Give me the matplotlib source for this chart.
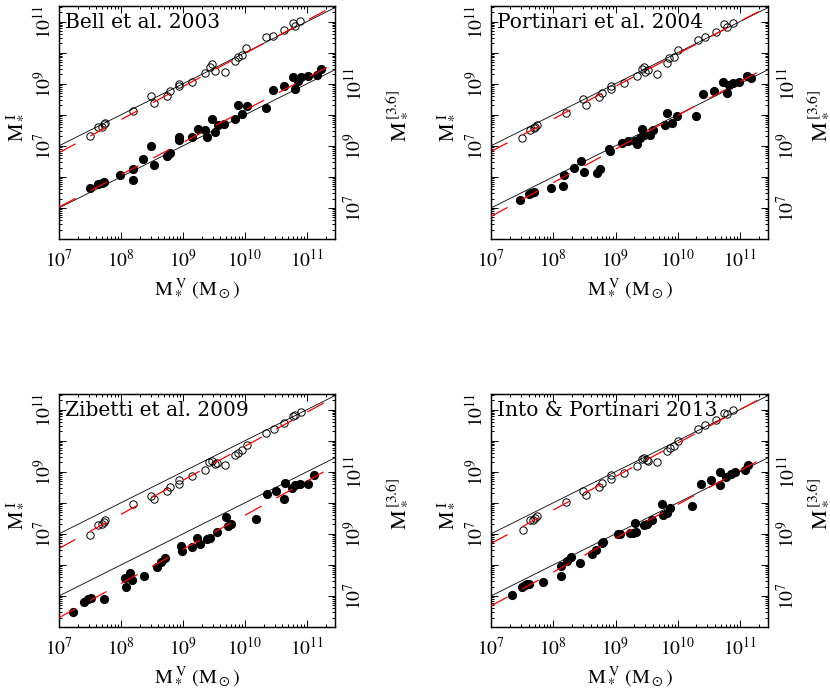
import numpy as np
import matplotlib
matplotlib.use("Agg")
import matplotlib.pyplot as plt
from matplotlib.ticker import FixedLocator, FuncFormatter, LogLocator, NullFormatter

plt.rcParams['font.family'] = 'serif'
plt.rcParams['font.serif'] = ['DejaVu Serif', 'Liberation Serif']
plt.rcParams['mathtext.fontset'] = 'stix'

titles = ['Bell et al. 2003', 'Portinari et al. 2004',
          'Zibetti et al. 2009', 'Into & Portinari 2013']

# log10 masses; "i" = open circles (I band, left axis), "s" = filled (3.6um, right axis)
bell_vi = [7.50, 7.63, 7.69, 7.72, 7.74, 8.19, 8.48, 8.53, 8.74, 8.79, 8.94, 8.94, 9.14, 9.35,
           9.44, 9.46, 9.52, 9.67, 9.84, 9.88, 9.95, 10.02, 10.33, 10.45, 10.62, 10.77, 10.80, 10.89]
bell_i = [7.33, 7.59, 7.62, 7.69, 7.75, 8.11, 8.62, 8.37, 8.59, 8.75, 9.00, 8.93, 9.07, 9.34,
          9.55, 9.63, 9.42, 9.39, 9.74, 9.87, 9.92, 10.16, 10.49, 10.54, 10.73, 10.95, 10.86, 11.02]
bell_vs = [7.50, 7.63, 7.69, 7.73, 7.99, 8.20, 8.19, 8.36, 8.48, 8.53, 8.74, 8.79, 8.94, 8.94,
           9.14, 9.24, 9.35, 9.38, 9.46, 9.52, 9.57, 9.66, 9.84, 9.88, 9.95, 10.03, 10.33, 10.45,
           10.62, 10.77, 10.80, 10.86, 10.91, 11.02, 11.16, 11.23]
bell_s = [7.64, 7.78, 7.80, 7.82, 8.05, 8.26, 7.91, 8.58, 8.98, 8.39, 8.66, 8.77, 9.20, 9.28,
          9.30, 9.54, 9.52, 9.30, 9.86, 9.46, 9.68, 9.70, 9.86, 10.32, 10.02, 10.27, 10.21, 10.80,
          10.94, 11.23, 10.83, 11.09, 11.21, 11.25, 11.29, 11.47]

port_vi = [7.50, 7.63, 7.69, 7.71, 7.74, 8.20, 8.48, 8.53, 8.73, 8.79, 8.93, 8.93, 9.13, 9.35,
           9.42, 9.46, 9.48, 9.53, 9.66, 9.83, 9.86, 9.94, 10.01, 10.32, 10.43, 10.61, 10.75, 10.79, 10.88]
port_i = [7.25, 7.52, 7.57, 7.62, 7.68, 8.05, 8.51, 8.30, 8.56, 8.70, 8.93, 8.82, 9.02, 9.25,
          9.48, 9.55, 9.39, 9.45, 9.32, 9.68, 9.82, 9.87, 10.07, 10.41, 10.49, 10.68, 10.91, 10.84, 10.97]
port_vs = [7.47, 7.61, 7.65, 7.69, 7.97, 8.17, 8.16, 8.33, 8.45, 8.50, 8.70, 8.75, 8.90, 8.91,
           9.10, 9.20, 9.32, 9.35, 9.42, 9.40, 9.46, 9.56, 9.61, 9.80, 9.83, 9.91, 9.98, 10.30,
           10.40, 10.58, 10.73, 10.79, 10.83, 10.88, 10.98, 11.11, 11.18]
port_s = [7.24, 7.46, 7.48, 7.50, 7.64, 8.07, 7.72, 8.28, 8.50, 8.16, 8.12, 8.25, 8.90, 8.82,
          9.09, 9.17, 9.14, 9.07, 9.54, 9.25, 9.36, 9.36, 9.52, 9.68, 10.07, 9.75, 9.97, 9.97,
          10.66, 10.78, 11.07, 10.70, 10.96, 11.02, 11.07, 11.25, 11.18]

zib_vi = [7.50, 7.63, 7.69, 7.72, 7.74, 8.19, 8.48, 8.53, 8.74, 8.79, 8.94, 8.94, 9.14, 9.35,
          9.42, 9.46, 9.52, 9.54, 9.67, 9.84, 9.88, 9.95, 10.03, 10.34, 10.46, 10.62, 10.77, 10.81, 10.90]
zib_i = [6.96, 7.28, 7.33, 7.39, 7.43, 7.95, 8.21, 8.13, 8.37, 8.51, 8.62, 8.72, 8.86, 9.07,
         9.31, 9.34, 9.25, 9.29, 9.20, 9.55, 9.61, 9.71, 9.87, 10.25, 10.38, 10.57, 10.79, 10.84, 10.92]
zib_vs = [7.23, 7.41, 7.47, 7.51, 7.73, 8.06, 8.08, 8.15, 8.17, 8.37, 8.58, 8.65, 8.71, 8.98,
          8.97, 9.14, 9.22, 9.27, 9.38, 9.44, 9.54, 9.69, 9.73, 9.78, 10.18, 10.35, 10.50, 10.62,
          10.65, 10.75, 10.81, 10.89, 11.02, 11.11]
zib_s = [6.48, 6.81, 6.89, 6.93, 6.89, 7.59, 7.30, 7.73, 7.53, 7.64, 7.94, 8.09, 8.23, 8.44,
         8.61, 8.58, 8.87, 8.66, 8.82, 8.87, 9.07, 9.55, 9.25, 9.32, 9.48, 10.27, 10.37, 10.11,
         10.64, 10.48, 10.57, 10.62, 10.62, 10.91]

into_vi = [7.51, 7.63, 7.68, 7.71, 7.74, 8.20, 8.48, 8.53, 8.73, 8.79, 8.93, 8.93, 9.13, 9.35,
           9.42, 9.46, 9.50, 9.53, 9.66, 9.83, 9.87, 9.94, 10.01, 10.32, 10.43, 10.61, 10.75, 10.79, 10.88]
into_i = [7.12, 7.44, 7.46, 7.52, 7.59, 8.03, 8.37, 8.25, 8.50, 8.64, 8.88, 8.75, 8.96, 9.18,
          9.41, 9.45, 9.39, 9.36, 9.31, 9.68, 9.77, 9.82, 10.00, 10.36, 10.49, 10.68, 10.89, 10.87, 11.00]
into_vs = [7.34, 7.50, 7.54, 7.58, 7.61, 7.83, 8.12, 8.12, 8.22, 8.28, 8.43, 8.62, 8.68, 8.79,
           8.80, 9.04, 9.08, 9.23, 9.28, 9.31, 9.33, 9.46, 9.50, 9.59, 9.75, 9.77, 9.83, 9.88,
           10.23, 10.37, 10.54, 10.68, 10.68, 10.77, 10.85, 10.92, 11.08, 11.13]
into_s = [7.03, 7.29, 7.34, 7.37, 7.39, 7.46, 7.98, 7.64, 8.12, 8.25, 8.05, 8.34, 8.47, 8.69,
          8.73, 8.98, 9.00, 9.03, 9.03, 9.36, 9.06, 9.30, 9.33, 9.46, 9.95, 9.62, 9.66, 9.84,
          9.89, 10.61, 10.72, 10.98, 10.56, 10.83, 10.93, 10.98, 11.07, 11.23]

# red dashed fits: log M = zero + slope * (log M_V - 7)
fit_i_zero = [6.78, 6.82, 6.53, 6.69]
fit_i_slope = [1.065, 1.047, 1.097, 1.077]
fit_s_zero = [7.03, 6.73, 6.30, 6.68]
fit_s_slope = [1.04, 1.083, 1.10, 1.088]

panels = [(bell_vi, bell_i, bell_vs, bell_s), (port_vi, port_i, port_vs, port_s),
          (zib_vi, zib_i, zib_vs, zib_s), (into_vi, into_i, into_vs, into_s)]

XLIM = (1e7, 10 ** 11.45)
YLIM_L = (1e4, 10 ** 11.5)
YLIM_R = (1e6, 10 ** 13.5)

rects = [[0.0711, 0.6556, 0.3325, 0.3357], [0.5916, 0.6556, 0.3337, 0.3357],
         [0.0711, 0.0965, 0.3325, 0.3357], [0.5916, 0.0965, 0.3337, 0.3357]]
right_label_x = [1.225, 1.18, 1.225, 1.18]


def dec_label(show):
    def f(v, pos):
        e = int(round(np.log10(v)))
        return r'$10^{%d}$' % e if e in show else ''
    return FuncFormatter(f)


def style_log(axis, show):
    axis.set_major_locator(FixedLocator([10.0 ** e for e in range(3, 15)]))
    axis.set_major_formatter(dec_label(show))
    axis.set_minor_locator(LogLocator(base=10, subs=np.arange(2, 10), numticks=50))
    axis.set_minor_formatter(NullFormatter())


fig = plt.figure(figsize=(8.3, 6.94), dpi=100)
xx = np.logspace(7, 11.45, 50)
lw_d = 0.9

for k, (vi, mi, vs, ms) in enumerate(panels):
    ax = fig.add_axes(rects[k])
    ax2 = ax.twinx()
    ax.set_xscale('log'); ax.set_yscale('log'); ax2.set_yscale('log')
    ax.set_xlim(*XLIM); ax.set_ylim(*YLIM_L); ax2.set_ylim(*YLIM_R)

    ax.plot(10 ** np.array(vi), 10 ** np.array(mi), 'o', mfc='none', mec='k', mew=0.7, ms=5.3, zorder=3)
    ax.plot(xx, xx, '-', color='k', lw=0.6, zorder=4)
    ax.plot(xx, 10 ** (fit_i_zero[k] + fit_i_slope[k] * (np.log10(xx) - 7)), color='red',
            lw=lw_d, dashes=(13.5 / lw_d, 12 / lw_d), zorder=5)

    ax2.plot(10 ** np.array(vs), 10 ** np.array(ms), 'o', color='k', ms=5.6, zorder=3)
    ax2.plot(xx, xx, '-', color='k', lw=0.6, zorder=4)
    ax2.plot(xx, 10 ** (fit_s_zero[k] + fit_s_slope[k] * (np.log10(xx) - 7)), color='red',
             lw=lw_d, dashes=(13.5 / lw_d, 12 / lw_d), zorder=5)

    style_log(ax.xaxis, range(7, 12))
    style_log(ax.yaxis, (7, 9, 11))
    style_log(ax2.yaxis, (7, 9, 11))
    ax.tick_params(which='both', direction='in', top=True, right=False, labelsize=14, width=0.7)
    ax.tick_params(which='major', length=5)
    ax.tick_params(which='minor', length=2.2)
    ax.tick_params(axis='x', pad=7)
    ax.tick_params(axis='y', labelrotation=90, pad=3)
    ax2.tick_params(which='both', direction='in', labelsize=14, width=0.7)
    ax2.tick_params(which='major', length=5)
    ax2.tick_params(which='minor', length=2.2)
    ax2.tick_params(axis='y', labelrotation=90, pad=6)
    for lab in ax.get_yticklabels():
        lab.set_va('center')
    for lab in ax2.get_yticklabels():
        lab.set_va('center')
    for a in (ax, ax2):
        for s in a.spines.values():
            s.set_linewidth(0.9)

    ax.text(0.022, 0.905, titles[k], transform=ax.transAxes, fontsize=14.5, va='baseline', zorder=6)

    ax.set_xlabel(r'$\mathrm{M}_*^{\ \mathrm{V}}\ (\mathrm{M}_\odot)$', fontsize=14.5)
    ax.xaxis.set_label_coords(0.5, -0.215)
    ax.xaxis.label.set_va('center')
    ax.set_ylabel(r'$\mathrm{M}_*^{\ \mathrm{I}}$', fontsize=15)
    ax.yaxis.set_label_coords(-0.165, 0.48)
    ax.yaxis.label.set_va('center')
    ax2.set_ylabel(r'$\mathrm{M}_*^{\,[3.6]}$', fontsize=16, rotation=90)
    ax2.yaxis.set_label_coords(right_label_x[k], 0.53)
    ax2.yaxis.label.set_va('center')

fig.savefig('out.png', dpi=100)
